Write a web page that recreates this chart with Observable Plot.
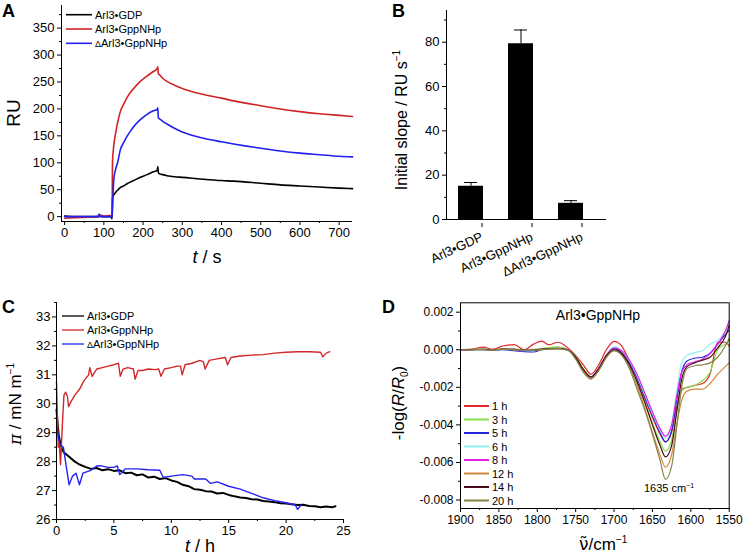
<!DOCTYPE html>
<html><head><meta charset="utf-8">
<script src="https://cdn.jsdelivr.net/npm/d3@7"></script>
<script src="https://cdn.jsdelivr.net/npm/@observablehq/plot@0.6"></script>
<style>
body{margin:0;background:#fff;}
#wrap{position:relative;width:744px;height:556px;overflow:hidden;font-family:"Liberation Sans",Arial,Helvetica,sans-serif;}
#wrap svg{position:absolute;}
</style></head><body><div id="wrap"></div>
<script>
// ---------- Panel A: SPR sensorgram ----------
const aNames = ["Arl3•GDP", "Arl3•GppNHp", "ΔArl3•GppNHp"];
const aColors = ["#000000", "#d02424", "#2020f0"];
const tA = [0, 30, 60, 85, 88, 91, 100, 118, 121, 122, 125, 130, 135, 142, 150, 159, 170, 176, 193, 210, 225, 236, 237.5, 239, 241, 250, 261, 280, 300, 346, 400, 431, 500, 550, 600, 650, 700, 734];
const aBlack = [1, 0, 0, 0, 0, 1, 0, 0, -4, 35, 40, 45, 49, 54, 57, 61, 65, 67, 73, 78, 83, 86, 93, 82, 80, 78, 76, 74, 73, 70, 67, 66, 62, 59, 57, 55, 53, 52];
const aRed = [-3, -2, -1, 0, 1, 3, 1, 2, 2, 101, 130, 155, 174, 195, 208, 221, 233, 238, 251, 261, 269, 275, 278, 265, 264, 257, 251, 244, 238, 228, 220, 215, 206, 200, 195, 191, 188, 186];
const aBlue = [0, 0, 0, 0, 5, 0, 0, 0, 0, 15, 67, 88, 100, 124, 137, 149, 161, 167, 180, 190, 196, 199, 202, 183, 182, 177, 172, 164, 157, 147, 139, 135, 127, 122, 118, 115, 112, 111];
const aTicksX = [0, 100, 200, 300, 400, 500, 600, 700];
const aMinorX = [50, 150, 250, 350, 450, 550, 650];
const aTicksY = [0, 50, 100, 150, 200, 250, 300, 350];
const aMinorY = [25, 75, 125, 175, 225, 275, 325, 375];

// ---------- Panel B: initial slopes ----------
const bCats = ["Arl3•GDP", "Arl3•GppNHp", "ΔArl3•GppNHp"];
const bVals = [15.0, 79.3, 7.3];
const bErr = [1.7, 6.2, 1.2];
const bTicksY = [0, 20, 40, 60, 80];
const bMinorY = [10, 30, 50, 70, 90];

// ---------- Panel C: surface pressure ----------
const cNames = ["Arl3•GDP", "Arl3•GppNHp", "ΔArl3•GppNHp"];
const cColors = ["#000000", "#d02828", "#2424f0"];
const cBlack = [[0,29.8],[0.1,29.3],[0.2,28.9],[0.35,28.6],[0.5,28.4],[0.7,28.3],[1.0,28.2],[1.3,28.1],[1.6,28.0],[2.0,27.9],[2.5,27.82],[3,27.75],[3.5,27.78],[4,27.7],[4.5,27.74],[5,27.68],[5.5,27.7],[6,27.6],[6.5,27.62],[7,27.53],[7.5,27.56],[8,27.45],[8.5,27.48],[9,27.4],[9.5,27.43],[10,27.35],[10.5,27.3],[11,27.2],[11.5,27.15],[12,27.05],[12.5,27.03],[13,26.98],[13.5,26.97],[14,26.9],[14.5,26.92],[15,26.85],[15.5,26.8],[16,26.76],[16.5,26.74],[17,26.7],[17.5,26.69],[18,26.64],[18.5,26.62],[19,26.6],[19.5,26.56],[20,26.55],[20.5,26.53],[21,26.5],[21.5,26.51],[22,26.47],[22.5,26.46],[23,26.42],[23.5,26.45],[24,26.42],[24.3,26.46]];
const cRed = [[0,30.75],[0.15,28.5],[0.25,28.6],[0.35,27.9],[0.5,29.2],[0.65,30.3],[0.8,30.4],[0.95,30.25],[1.05,29.9],[1.3,30.1],[1.6,30.3],[2.0,30.5],[2.4,30.8],[2.8,31.0],[2.9,31.25],[3.1,30.95],[3.5,31.2],[4.0,31.25],[4.5,31.3],[5.0,31.35],[5.4,31.4],[5.55,30.95],[5.8,31.2],[6.2,31.25],[6.7,31.2],[6.85,30.85],[7.1,31.15],[7.5,31.15],[8.0,31.2],[8.6,31.18],[8.9,31.2],[9.1,30.95],[9.4,31.2],[10.0,31.25],[10.5,31.3],[10.8,31.3],[10.95,31.0],[11.2,31.35],[11.8,31.4],[12.5,31.5],[12.8,31.45],[12.95,31.2],[13.3,31.5],[14.0,31.55],[14.7,31.6],[14.9,31.35],[15.2,31.6],[16,31.65],[17,31.68],[18,31.7],[19,31.75],[20,31.78],[21,31.8],[22,31.8],[23,31.78],[23.2,31.62],[23.5,31.75],[23.8,31.8]];
const cBlue = [[0,29.2],[0.3,28.6],[0.6,28.5],[0.9,27.7],[1.1,27.2],[1.4,27.5],[1.7,27.6],[2.0,27.2],[2.3,27.6],[3.0,27.7],[3.5,27.85],[3.8,27.86],[4.5,27.8],[5.0,27.8],[5.3,27.85],[5.5,27.55],[6.0,27.75],[7.0,27.75],[8.0,27.72],[9.0,27.7],[9.3,27.45],[10.0,27.5],[11.0,27.55],[11.8,27.5],[12.0,27.4],[13.0,27.4],[13.4,27.25],[14.0,27.3],[15.0,27.15],[16.0,27.05],[17.0,26.9],[18.0,26.75],[19.0,26.65],[20.0,26.58],[20.8,26.5],[21.0,26.35],[21.3,26.5]];
const cTicksX = [0, 5, 10, 15, 20, 25];
const cMinorX = [2.5, 7.5, 12.5, 17.5, 22.5];
const cTicksY = [26, 27, 28, 29, 30, 31, 32, 33];
const cMinorY = [26.5, 27.5, 28.5, 29.5, 30.5, 31.5, 32.5, 33.5];

// ---------- Panel D: IRRA spectra (values in 10^-3) ----------
const dNames = ["1 h", "3 h", "5 h", "6 h", "8 h", "12 h", "14 h", "20 h"];
const dColors = ["#e0282a", "#86e046", "#2424d8", "#90eef0", "#e020e8", "#d0883e", "#4a0a1a", "#858548"];
const dWave = [1900,1885,1870,1858,1845,1830,1817,1805,1794,1785,1773,1760,1750,1740,1730,1720,1710,1700,1690,1680,1670,1660,1650,1640,1633,1625,1618,1612,1605,1595,1585,1575,1565,1555,1550];
const d1h  = [0,0.03,0.14,0.02,0.2,0.27,0.0,0.3,0.46,0.27,0.4,0.1,-0.3,-0.8,-1.3,-0.8,0.0,0.45,0.2,-0.6,-1.5,-2.6,-3.6,-4.5,-4.9,-4.4,-3.0,-2.1,-2.0,-1.9,-1.8,-1.3,0.4,0.4,0.2];
const d3h  = [0,0.02,0.03,0.0,0.05,0.05,-0.02,0.02,0.08,0.12,0.15,0.02,-0.35,-1.0,-1.45,-1.0,-0.3,0.05,-0.15,-0.8,-1.7,-2.8,-3.9,-4.9,-5.4,-4.8,-3.2,-2.2,-2.0,-1.9,-1.65,-1.2,0.0,0.3,0.5];
const d5h  = [0,0,0.0,-0.02,0.0,-0.05,-0.1,-0.12,0.0,0.05,0.05,-0.02,-0.4,-1.1,-1.45,-1.0,-0.35,0.05,-0.15,-0.7,-1.5,-2.5,-3.5,-4.4,-4.9,-4.3,-2.6,-1.2,-0.6,-0.45,-0.4,-0.2,0.3,0.8,1.05];
const d6h  = [0,0,0.02,0,0.02,0.0,-0.05,-0.05,0.03,0.05,0.05,0,-0.45,-1.15,-1.5,-1.05,-0.3,0.15,-0.05,-0.6,-1.4,-2.4,-3.4,-4.3,-4.7,-4.0,-2.1,-0.7,-0.3,-0.15,-0.05,0.3,0.5,1.0,1.4];
const d8h  = [0,0.01,0.02,0,0.03,0.02,-0.03,-0.02,0.04,0.06,0.08,0.01,-0.45,-1.1,-1.45,-1.0,-0.3,0.1,-0.05,-0.55,-1.3,-2.3,-3.3,-4.2,-4.6,-4.0,-2.4,-1.2,-0.8,-0.65,-0.5,-0.2,0.3,1.0,1.55];
const d12h = [0,0.0,0.01,-0.01,0.02,0.0,-0.04,-0.03,0.02,0.04,0.05,-0.02,-0.45,-1.1,-1.55,-1.1,-0.4,-0.05,-0.25,-0.9,-1.9,-3.1,-4.4,-5.6,-6.25,-5.6,-3.9,-2.7,-2.2,-2.1,-2.1,-1.8,-1.3,-0.9,-0.7];
const d14h = [0,0.01,0.02,0,0.03,0.02,-0.02,-0.03,0.03,0.06,0.08,0.0,-0.4,-1.05,-1.45,-1.0,-0.3,0.0,-0.2,-0.8,-1.7,-2.8,-4.0,-5.1,-5.7,-5.1,-3.2,-1.6,-0.9,-0.7,-0.55,-0.4,0.1,0.7,1.3];
const d20h = [0,0.0,0.01,-0.01,0.02,0.01,-0.03,-0.04,0.02,0.05,0.06,-0.02,-0.5,-1.2,-1.55,-1.1,-0.4,-0.05,-0.3,-1.0,-2.1,-3.2,-4.5,-5.9,-6.9,-6.2,-4.0,-2.0,-1.0,-0.85,-0.8,-0.7,-0.4,0.2,0.6];
const dTicksX = [1900, 1850, 1800, 1750, 1700, 1650, 1600, 1550];
const dMinorX = [1875, 1825, 1775, 1725, 1675, 1625, 1575];
const dTicksY = [-0.008, -0.006, -0.004, -0.002, 0, 0.002];
const dMinorY = [-0.007, -0.005, -0.003, -0.001, 0.001];

// ---------- build ----------
const wrap = document.getElementById("wrap");
const FONT = '"Liberation Sans", Arial, Helvetica, sans-serif';
const baseStyle = {fontFamily: FONT, fontSize: "13px", color: "#000", background: "transparent", overflow: "visible"};
function place(svg, left, top) { svg.style.left = left + "px"; svg.style.top = top + "px"; wrap.appendChild(svg); }
const blank = () => "";

// A
const aSeries = [aBlack, aRed, aBlue];
const aRows = [];
aNames.forEach((n, k) => tA.forEach((t, i) => aRows.push({t, v: aSeries[k][i], s: n})));
place(Plot.plot({
  width: 372, height: 270, marginLeft: 61, marginRight: 20, marginTop: 5, marginBottom: 49,
  style: baseStyle,
  x: {domain: [-8, 734]}, y: {domain: [-9, 392]},
  color: {domain: aNames, range: aColors},
  marks: [
    Plot.line(aRows, {x: "t", y: "v", z: "s", stroke: "s", strokeWidth: 1.6, curve: "monotone-x"}),
    Plot.ruleX([-8]), Plot.ruleY([-9]),
    Plot.axisX({ticks: aTicksX, tickSize: 4, tickPadding: 2, fontSize: 13, label: null}),
    Plot.axisX({ticks: aMinorX, tickSize: 2, tickFormat: blank, label: null}),
    Plot.axisY({ticks: aTicksY, tickSize: 4, tickPadding: 3, fontSize: 13, label: null}),
    Plot.axisY({ticks: aMinorY, tickSize: 2, tickFormat: blank, label: null})
  ]
}), 0, 0);

// B
const bRows = bCats.map((c, i) => ({c, v: bVals[i], e: bErr[i]}));
place(Plot.plot({
  width: 372, height: 270, marginLeft: 74, marginRight: 138, marginTop: 10, marginBottom: 51,
  style: baseStyle,
  x: {type: "band", domain: bCats, range: [73.5, 223.5], paddingInner: 0.5, paddingOuter: 0.25},
  y: {domain: [0, 94.3]},
  marks: [
    Plot.barY(bRows, {x: "c", y: "v", fill: "#000"}),
    Plot.ruleX(bRows, {x: "c", y1: "v", y2: d => d.v + d.e, strokeWidth: 1}),
    Plot.tickY(bRows, {x: "c", y: d => d.v + d.e, insetLeft: 6, insetRight: 6}),
    Plot.frame({anchor: "left"}), Plot.ruleY([0]),
    Plot.axisX({tickSize: 4, tickRotate: -25, fontSize: 13, dx: 11, dy: 4, label: null}),
    Plot.axisY({ticks: bTicksY, tickSize: 4, tickPadding: 3, fontSize: 13, label: null}),
    Plot.axisY({ticks: bMinorY, tickSize: 2, tickFormat: blank, label: null})
  ]
}), 372, 0);

// C
const cSeries = [cBlack, cRed, cBlue];
const cRows = [];
cNames.forEach((n, k) => cSeries[k].forEach(([t, v]) => cRows.push({t, v, s: n})));
place(Plot.plot({
  width: 372, height: 278, marginLeft: 56, marginRight: 29, marginTop: 24, marginBottom: 37,
  style: baseStyle,
  x: {domain: [0, 25]}, y: {domain: [26, 33.5]},
  color: {domain: cNames, range: cColors},
  marks: [
    Plot.line(cRows.filter(d => d.s === cNames[0]), {x: "t", y: "v", stroke: "s", strokeWidth: 2}),
    Plot.line(cRows.filter(d => d.s !== cNames[0]), {x: "t", y: "v", z: "s", stroke: "s", strokeWidth: 1.4}),
    Plot.ruleX([0]), Plot.ruleY([26]),
    Plot.axisX({ticks: cTicksX, tickSize: 4, tickPadding: 2, fontSize: 13, label: null}),
    Plot.axisX({ticks: cMinorX, tickSize: 2, tickFormat: blank, label: null}),
    Plot.axisY({ticks: cTicksY, tickSize: 4, tickPadding: 2, fontSize: 13, label: null}),
    Plot.axisY({ticks: cMinorY, tickSize: 2, tickFormat: blank, label: null})
  ]
}), 0, 278);

// D
const dSeries = [d1h, d3h, d5h, d6h, d8h, d12h, d14h, d20h];
const dRows = [];
dNames.forEach((n, k) => dWave.forEach((w, i) => dRows.push({w, v: dSeries[k][i] / 1000, s: n})));
place(Plot.plot({
  width: 372, height: 278, marginLeft: 88, marginRight: 15.3, marginTop: 24.3, marginBottom: 48,
  style: baseStyle,
  x: {domain: [1900, 1550]}, y: {domain: [-0.00845, 0.0025]},
  color: {domain: dNames, range: dColors},
  marks: [
    Plot.line(dRows, {x: "w", y: "v", z: "s", stroke: "s", strokeWidth: 1.2, curve: "monotone-x"}),
    Plot.frame({stroke: "#000"}),
    Plot.axisX({ticks: dTicksX, tickSize: 4, tickPadding: 3, fontSize: 12, tickFormat: d => String(d), label: null}),
    Plot.axisX({ticks: dMinorX, tickSize: 2, tickFormat: blank, label: null}),
    Plot.axisY({ticks: dTicksY, tickSize: 4, tickPadding: 3, fontSize: 12, tickFormat: d => d.toFixed(3), label: null}),
    Plot.axisY({ticks: dMinorY, tickSize: 2, tickFormat: blank, label: null})
  ]
}), 372, 278);

// ---------- overlay texts & legends ----------
let s = `<svg width="744" height="556" style="left:0;top:0;pointer-events:none" font-family='${FONT}' xmlns="http://www.w3.org/2000/svg">`;
const L = (x, y, t) => `<text x="${x}" y="${y}" font-size="18" font-weight="bold">${t}</text>`;
s += L(2, 17, "A") + L(392, 17, "B") + L(2, 313, "C") + L(382, 313, "D");
const nameTxt = n => n.startsWith("Δ") ? `<tspan font-size="9">Δ</tspan>${n.slice(1)}` : n;
// A legend
aNames.forEach((n, i) => { const y = 14.7 + 14.3 * i;
  s += `<line x1="66" x2="92" y1="${y}" y2="${y}" stroke="${aColors[i]}" stroke-width="1.6"/>`;
  s += `<text x="95" y="${y + 4}" font-size="11">${nameTxt(n)}</text>`; });
// C legend
cNames.forEach((n, i) => { const y = 316 + 14 * i;
  s += `<line x1="62" x2="84" y1="${y}" y2="${y}" stroke="${cColors[i]}" stroke-width="1.3"/>`;
  s += `<text x="87" y="${y + 4}" font-size="11">${nameTxt(n)}</text>`; });
// D legend
dNames.forEach((n, i) => { const y = 406 + 13.5 * i;
  s += `<line x1="464" x2="489" y1="${y}" y2="${y}" stroke="${dColors[i]}" stroke-width="2"/>`;
  s += `<text x="492" y="${y + 4}" font-size="11">${n}</text>`; });
// axis titles
s += `<text transform="translate(20,113) rotate(-90)" text-anchor="middle" font-size="19">RU</text>`;
s += `<text x="207" y="263" text-anchor="middle" font-size="18"><tspan font-style="italic">t</tspan> / s</text>`;
s += `<text transform="translate(407,120) rotate(-90)" text-anchor="middle" font-size="16">Initial slope / RU s<tspan font-size="10" dy="-7">−1</tspan></text>`;
s += `<text transform="translate(21,404) rotate(-90)" text-anchor="middle" font-size="17"><tspan font-style="italic" font-family="DejaVu Serif, serif">π</tspan> / mN m<tspan font-size="10" dy="-7">−1</tspan></text>`;
s += `<text x="200" y="552" text-anchor="middle" font-size="18"><tspan font-style="italic">t</tspan> / h</text>`;
s += `<text transform="translate(404,403) rotate(-90)" text-anchor="middle" font-size="17">-log(<tspan font-style="italic">R</tspan>/<tspan font-style="italic">R</tspan><tspan font-size="10" dy="4">0</tspan><tspan dy="-4">)</tspan></text>`;
s += `<text x="579" y="550" font-size="17"><tspan font-family="DejaVu Sans">ν̃</tspan>/cm<tspan font-size="10" dy="-7">−1</tspan></text>`;
s += `<text x="598" y="320" text-anchor="middle" font-size="14">Arl3•GppNHp</text>`;
s += `<text x="669" y="492" text-anchor="middle" font-size="11">1635 cm<tspan font-size="7" dy="-4">−1</tspan></text>`;
s += `</svg>`;
wrap.insertAdjacentHTML("beforeend", s);
</script></body></html>
